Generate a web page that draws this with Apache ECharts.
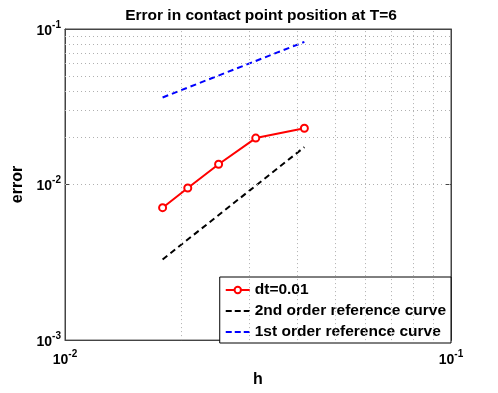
<!DOCTYPE html>
<html>
<head>
<meta charset="utf-8">
<script src="https://cdn.jsdelivr.net/npm/echarts@6/dist/echarts.min.js"></script>
<style>
  html, body { margin: 0; padding: 0; background: #fff; }
  #chart { width: 498px; height: 393px; }
</style>
</head>
<body>
<div id="chart"></div>
<script>
// data
const h = [0.0179, 0.0208, 0.025, 0.0312, 0.0417]
const errDt = [0.0071, 0.0095, 0.0135, 0.0199, 0.0230]
const refX = [0.0179, 0.0417]
const ref2nd = [0.0033, 0.0174]
const ref1st = [0.0363, 0.0826]

// grid lines (matlab-like log grid)
const xGrid = [0.02, 0.03, 0.04, 0.05, 0.06, 0.07, 0.08, 0.09]
const yGrid = [0.002, 0.003, 0.004, 0.005, 0.006, 0.007, 0.008, 0.009, 0.01,
  0.02, 0.03, 0.04, 0.05, 0.06, 0.07, 0.08, 0.09]

const FONT = 'Liberation Sans'
const DASH_ICON = 'path://M0,0h6v2h-6z M9,0h6v2h-6z M18,0h6v2h-6z'

function powLabel(v) {
  const e = Math.round(Math.log10(v))
  return '{b|10}{s|' + e + '}'
}

const richLabel = {
  b: { fontSize: 14, fontWeight: 'bold', fontFamily: FONT, color: '#000', verticalAlign: 'bottom', lineHeight: 18 },
  s: { fontSize: 10, fontWeight: 'bold', fontFamily: FONT, color: '#000', verticalAlign: 'top', lineHeight: 18 }
}

const myChart = echarts.init(document.getElementById('chart'), null, { renderer: 'canvas' })

const gridMarks = []
xGrid.forEach(v => gridMarks.push({ xAxis: v }))
yGrid.forEach(v => gridMarks.push({ yAxis: v }))

const axisName = { fontFamily: FONT, fontSize: 16, fontWeight: 'bold', color: '#000' }

const option = {
  animation: false,
  backgroundColor: '#fff',
  title: {
    text: 'Error in contact point position at T=6',
    left: 256,
    textAlign: 'center',
    top: 3,
    textStyle: { fontFamily: FONT, fontSize: 15.5, fontWeight: 'bold', color: '#000' }
  },
  grid: {
    left: 65, right: 47, top: 29, bottom: 44,
    show: true, borderColor: '#444', borderWidth: 1, backgroundColor: '#fff'
  },
  legend: {
    data: [
      { name: 'dt=0.01' },
      { name: '2nd order reference curve', icon: DASH_ICON },
      { name: '1st order reference curve', icon: DASH_ICON }
    ],
    orient: 'vertical',
    right: 47,
    top: 277,
    backgroundColor: '#fff',
    borderColor: '#000',
    borderWidth: 1,
    borderRadius: 0,
    padding: [4, 5, 2, 5],
    itemWidth: 24,
    itemHeight: 8,
    itemGap: 3,
    textStyle: { fontFamily: FONT, fontSize: 15.5, fontWeight: 'bold', color: '#000', lineHeight: 18 }
  },
  xAxis: [
    {
      type: 'log', min: 0.01, max: 0.1, logBase: 10,
      name: 'h', nameLocation: 'middle', nameGap: 27,
      nameTextStyle: axisName,
      axisLine: { lineStyle: { color: '#444' } },
      axisTick: { inside: true, length: 5, lineStyle: { color: '#444' } },
      axisLabel: { formatter: powLabel, rich: richLabel, margin: 9 },
      splitLine: { show: false }
    },
    {
      type: 'log', min: 0.01, max: 0.1, position: 'top',
      axisLine: { lineStyle: { color: '#444' } },
      axisTick: { inside: true, length: 5, lineStyle: { color: '#444' } },
      axisLabel: { show: false },
      splitLine: { show: false }
    }
  ],
  yAxis: [
    {
      type: 'log', min: 0.001, max: 0.1, logBase: 10,
      name: 'error', nameLocation: 'middle', nameGap: 36,
      nameTextStyle: axisName,
      axisLine: { lineStyle: { color: '#444' } },
      axisTick: { inside: true, length: 5, lineStyle: { color: '#444' } },
      axisLabel: { formatter: powLabel, rich: richLabel, margin: 4 },
      splitLine: { show: false }
    },
    {
      type: 'log', min: 0.001, max: 0.1, position: 'right',
      axisLine: { lineStyle: { color: '#444' } },
      axisTick: { inside: true, length: 5, lineStyle: { color: '#444' } },
      axisLabel: { show: false },
      splitLine: { show: false }
    }
  ],
  series: [
    {
      name: 'gridlines',
      type: 'line',
      data: [],
      silent: true,
      z: 1,
      markLine: {
        silent: true,
        symbol: 'none',
        label: { show: false },
        lineStyle: { color: '#b0b0b0', type: [1, 3], width: 1 },
        data: gridMarks
      }
    },
    {
      name: 'dt=0.01',
      type: 'line',
      z: 5,
      data: h.map((x, i) => [x, errDt[i]]),
      color: '#ff0000',
      lineStyle: { width: 2, color: '#ff0000' },
      symbol: 'emptyCircle',
      symbolSize: 7,
      itemStyle: { color: '#ff0000', borderWidth: 1.5, borderColor: '#ff0000' }
    },
    {
      name: '2nd order reference curve',
      type: 'line',
      z: 4,
      data: refX.map((x, i) => [x, ref2nd[i]]),
      color: '#000',
      lineStyle: { width: 2, color: '#000', type: [6, 4] },
      symbol: 'none'
    },
    {
      name: '1st order reference curve',
      type: 'line',
      z: 4,
      data: refX.map((x, i) => [x, ref1st[i]]),
      color: '#0000ff',
      lineStyle: { width: 2, color: '#0000ff', type: [6, 4] },
      symbol: 'none'
    }
  ]
}

myChart.setOption(option)
</script>
</body>
</html>
